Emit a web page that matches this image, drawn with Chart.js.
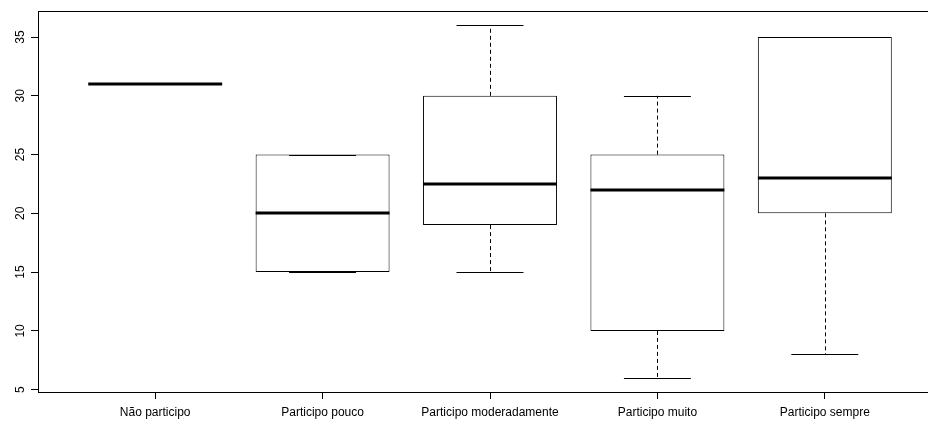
<!DOCTYPE html>
<html>
<head>
<meta charset="utf-8">
<script src="https://cdn.jsdelivr.net/npm/chart.js@4/dist/chart.umd.min.js"></script>
<style>
  html, body { margin: 0; padding: 0; background: #fff; overflow: hidden; }
  #wrap { width: 942px; height: 421px; }
</style>
</head>
<body>
<div id="wrap"><canvas id="c" width="942" height="421"></canvas></div>
<script>
// Five-number summaries per participation group
const categories = ['Não participo', 'Participo pouco', 'Participo moderadamente', 'Participo muito', 'Participo sempre'];
const lowerWhisker = [31, 15, 15, 6, 8];
const lowerQuartile = [31, 15, 19, 10, 20];
const medians = [31, 20, 22.5, 22, 23];
const upperQuartile = [31, 25, 30, 25, 35];
const upperWhisker = [31, 25, 36, 30, 35];
const yTickValues = [5, 10, 15, 20, 25, 30, 35];

const FONT = { family: '"Liberation Sans", Arial, sans-serif', size: 12 };

// Medians, whiskers and staples drawn on top of the boxes using the chart scales
const boxExtras = {
  id: 'boxExtras',
  afterDatasetsDraw(chart) {
    const ctx = chart.ctx;
    const xs = chart.scales.x, ys = chart.scales.y;
    const meta = chart.getDatasetMeta(0);
    ctx.save();
    categories.forEach((c, i) => {
      const el = meta.data[i];
      const cx = xs.getPixelForValue(i + 1);
      const w = el.width;
      const half = w / 2, staple = w / 4;
      const yLo = ys.getPixelForValue(lowerWhisker[i]);
      const yQ1 = ys.getPixelForValue(lowerQuartile[i]);
      const yQ3 = ys.getPixelForValue(upperQuartile[i]);
      const yHi = ys.getPixelForValue(upperWhisker[i]);
      const yMed = ys.getPixelForValue(medians[i]);
      const px = Math.round(cx) + 0.5;

      ctx.strokeStyle = '#000';
      // dashed whiskers
      ctx.lineWidth = 1;
      ctx.setLineDash([4, 3]);
      ctx.beginPath();
      if (yHi < yQ3) { ctx.moveTo(px, yQ3); ctx.lineTo(px, yHi); }
      if (yLo > yQ1) { ctx.moveTo(px, yQ1); ctx.lineTo(px, yLo); }
      ctx.stroke();
      // staples
      ctx.setLineDash([]);
      ctx.beginPath();
      const sHi = Math.round(yHi) + 0.5, sLo = Math.round(yLo) + 0.5;
      ctx.moveTo(cx - staple, sHi); ctx.lineTo(cx + staple, sHi);
      ctx.moveTo(cx - staple, sLo); ctx.lineTo(cx + staple, sLo);
      ctx.stroke();
      // median
      ctx.lineWidth = 3;
      ctx.beginPath();
      ctx.moveTo(cx - half, Math.round(yMed));
      ctx.lineTo(cx + half, Math.round(yMed));
      ctx.stroke();
    });
    ctx.restore();
  },
  afterDraw(chart) {
    const { ctx, chartArea: a } = chart;
    ctx.save();
    ctx.strokeStyle = '#000';
    ctx.lineWidth = 1;
    ctx.strokeRect(Math.round(a.left) + 0.5, Math.round(a.top) + 0.5,
      Math.round(a.right - a.left), Math.round(a.bottom - a.top));
    ctx.restore();
  }
};

new Chart(document.getElementById('c'), {
  type: 'bar',
  data: {
    datasets: [{
      data: categories.map((c, i) => ({ x: i + 1, y: [lowerQuartile[i], upperQuartile[i]] })),
      backgroundColor: '#ffffff',
      borderColor: '#000000',
      borderWidth: 1,
      borderSkipped: false,
      categoryPercentage: 0.8,
      barPercentage: 1.0
    }]
  },
  options: {
    responsive: false,
    animation: false,
    devicePixelRatio: 1,
    layout: { padding: { top: 10, left: 0, right: 0, bottom: 0 } },
    plugins: { legend: { display: false }, tooltip: { enabled: false } },
    scales: {
      x: {
        type: 'linear',
        min: 0.3,
        max: 5.7,
        offset: false,
        afterBuildTicks: axis => { axis.ticks = categories.map((c, i) => ({ value: i + 1 })); },
        afterFit: s => { s.height = 29; },
        grid: { offset: false, drawOnChartArea: false, drawTicks: true, tickLength: 7, color: '#000', tickColor: '#000' },
        border: { display: true, color: '#000', width: 1 },
        ticks: {
          autoSkip: false,
          maxRotation: 0,
          padding: 6,
          color: '#000',
          font: FONT,
          callback: v => categories[v - 1]
        }
      },
      y: {
        min: 4.8,
        max: 37.2,
        afterBuildTicks: axis => { axis.ticks = yTickValues.map(v => ({ value: v })); },
        afterFit: s => { s.width = 38; },
        grid: { drawOnChartArea: false, drawTicks: true, tickLength: 7, color: '#000', tickColor: '#000' },
        border: { display: true, color: '#000', width: 1 },
        ticks: {
          autoSkip: false,
          minRotation: 90,
          maxRotation: 90,
          crossAlign: 'center',
          padding: 4,
          color: '#000',
          font: FONT
        }
      }
    }
  },
  plugins: [boxExtras]
});
</script>
</body>
</html>
